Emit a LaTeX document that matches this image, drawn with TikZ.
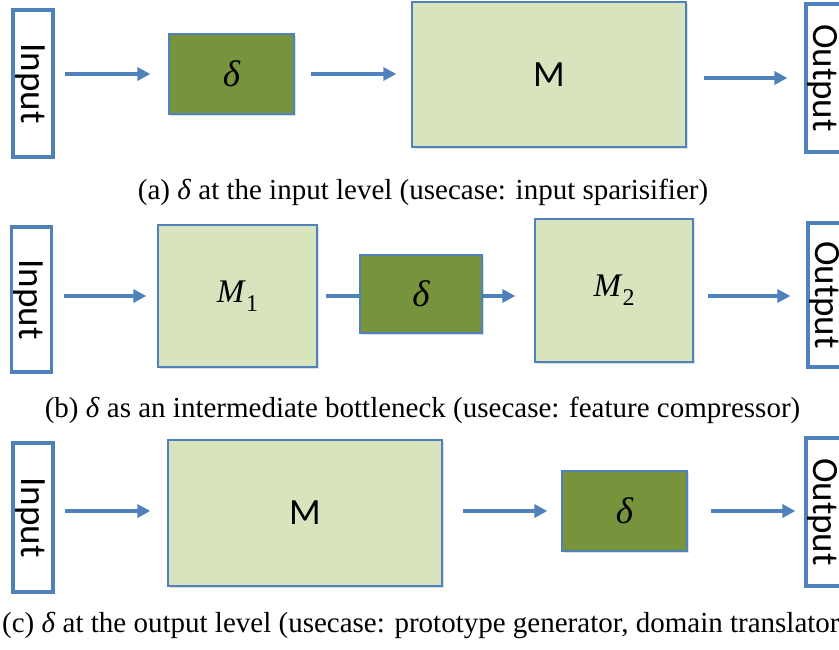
\documentclass[tikz,border=0pt]{standalone}
\usepackage{fontspec}
\setmainfont{Liberation Serif}
\newfontfamily\boxfont{Carlito}
\usetikzlibrary{arrows.meta,shadows}
\definecolor{ioblue}{RGB}{79,129,189}
\definecolor{modelgreen}{RGB}{215,228,189}
\definecolor{deltagreen}{RGB}{119,147,60}
\newcommand{\rot}[1]{\rotatebox{-90}{#1}\hspace*{6pt}}
\newcommand{\msub}[1]{\textit{M}\raisebox{-9pt}{\fontsize{24}{24}\selectfont #1}}

\begin{document}
\begin{tikzpicture}[x=1pt,y=-1pt,
  iobox/.style={draw=ioblue, line width=3.2pt, fill=white, minimum width=40pt, inner sep=0pt,
    font=\boxfont\fontsize{37}{37}\selectfont},
  modelbox/.style={draw=ioblue, line width=1.3pt, fill=modelgreen, inner sep=0pt,
    drop shadow={shadow xshift=1.5pt, shadow yshift=-2pt, opacity=0.25},
    font=\boxfont\fontsize{37}{37}\selectfont},
  deltabox/.style={modelbox, fill=deltagreen, minimum width=125pt, minimum height=80pt,
    font=\itshape\fontsize{37}{37}\selectfont},
  flow/.style={ioblue, line width=4pt, -{Triangle[length=13pt,width=13pt]}},
  caption/.style={font=\fontsize{29}{29}\selectfont, inner sep=0pt}]
  \useasboundingbox (0,0) rectangle (839,649);
  % (a) delta at the input
  \node[iobox, minimum height=147pt] (inA) at (33,83.5) {\rot{Input}};
  \node[deltabox] (dA) at (231.5,74) {δ};
  \node[modelbox, minimum width=274pt, minimum height=145pt] (mA) at (549,74.5) {M};
  \node[iobox, minimum height=148pt] (outA) at (826,78) {\rot{Output}};
  \draw[flow, shorten <=10pt, shorten >=18pt] (inA.east |- dA.west) -- (dA.west);
  \draw[flow, shorten <=16pt, shorten >=15pt] (dA.east) -- (dA.east -| mA.west);
  \draw[flow, shorten <=17pt, shorten >=17pt] (mA.east |- outA.west) -- (outA.west);
  \node[caption] (capA) at (423,192) {(a) \textit{δ} at the input level (usecase: input sparisifier)};
  % (b) delta between M1 and M2
  \node[iobox, minimum height=145pt] (inB) at (31.5,299.5) {\rot{Input}};
  \node[modelbox, minimum width=159pt, minimum height=142pt, font=\fontsize{33}{33}\selectfont] (mOne) at (237.5,296) {\msub{1}};
  \node[deltabox, minimum width=122pt, minimum height=78pt] (dB) at (421,294) {δ};
  \node[modelbox, minimum width=158pt, minimum height=143pt, font=\fontsize{33}{33}\selectfont] (mTwo) at (614,290.5) {\msub{2}};
  \node[iobox, minimum height=144pt] (outB) at (828,295) {\rot{Output}};
  \draw[flow, shorten <=11pt, shorten >=11pt] (inB.east |- mOne.west) -- (mOne.west);
  \draw[ioblue, line width=4pt, shorten <=8pt] (mOne.east) -- (mOne.east -| dB.west);
  \draw[flow, shorten >=19pt] (dB.east |- mOne.east) -- (mTwo.west |- mOne.east);
  \draw[flow, shorten <=14pt, shorten >=16pt] (mTwo.east |- mOne.east) -- (outB.west |- mOne.east);
  \node[caption] (capB) at (422.5,410) {(b) \textit{δ} as an intermediate bottleneck (usecase: feature compressor)};
  % (c) delta at the output
  \node[iobox, minimum height=149pt] (inC) at (33,517.5) {\rot{Input}};
  \node[modelbox, minimum width=274pt, minimum height=146pt] (mC) at (305,513) {M};
  \node[deltabox] (dC) at (624.5,511) {δ};
  \node[iobox, minimum height=148pt] (outC) at (826,512) {\rot{Output}};
  \draw[flow, shorten <=10pt, shorten >=17pt] (inC.east |- dC.west) -- (mC.west |- dC.west);
  \draw[flow, shorten <=20pt, shorten >=14pt] (mC.east |- dC.west) -- (dC.west);
  \draw[flow, shorten <=23pt, shorten >=9pt] (dC.east) -- (outC.west |- dC.east);
  \node[caption, anchor=west] (capC) at (2,625) {(c) \textit{δ} at the output level (usecase: prototype generator, domain translator};
\end{tikzpicture}
\end{document}
